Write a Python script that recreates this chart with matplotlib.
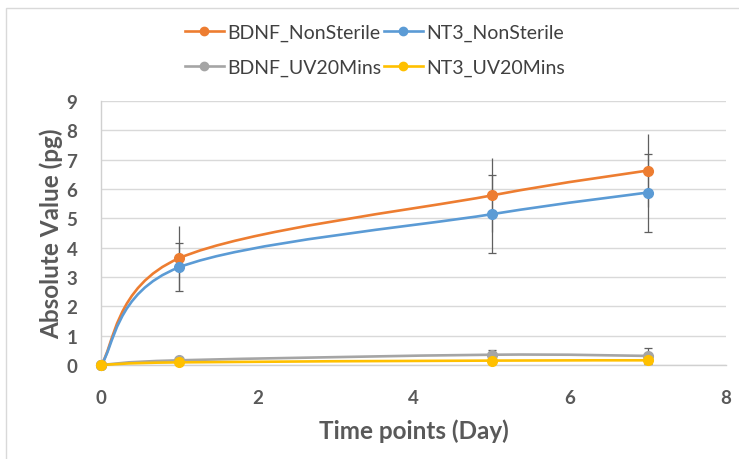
import numpy as np
import matplotlib.pyplot as plt
from matplotlib.path import Path
from matplotlib.patches import PathPatch, Rectangle
from matplotlib.lines import Line2D

plt.rcParams['font.family'] = ['Lato', 'DejaVu Sans']

# Time points (days) and measured values (pg)
days = [0, 1, 5, 7]
bdnf_nonsterile = [0, 3.64, 5.78, 6.63]
bdnf_nonsterile_err = [0, 1.09, 1.26, 1.23]
nt3_nonsterile = [0, 3.33, 5.14, 5.88]
nt3_nonsterile_err = [0, 0.82, 1.33, 1.33]
bdnf_uv20 = [0, 0.16, 0.35, 0.31]
bdnf_uv20_err = [0, 0, 0.17, 0.27]
nt3_uv20 = [0, 0.09, 0.15, 0.16]

series = [
    ("BDNF_NonSterile", bdnf_nonsterile, bdnf_nonsterile_err, "#ED7D31", 0),
    ("NT3_NonSterile", nt3_nonsterile, nt3_nonsterile_err, "#5B9BD5", 3),
    ("BDNF_UV20Mins", bdnf_uv20, bdnf_uv20_err, "#A5A5A5", 3),
    ("NT3_UV20Mins", nt3_uv20, None, "#FFC000", 0),
]


def smooth_path(x, y):
    """Bezier path through the points (Catmull-Rom style smoothed line)."""
    pts = np.column_stack([x, y]).astype(float)
    n = len(pts)
    verts = [pts[0]]
    codes = [Path.MOVETO]
    for i in range(n - 1):
        prev = pts[max(i - 1, 0)]
        nxt = pts[min(i + 2, n - 1)]
        p0, p1 = pts[i], pts[i + 1]
        c1 = p0 + (p1 - prev) / 6
        c2 = p1 - (nxt - p0) / 6
        verts += [c1, c2, p1]
        codes += [Path.CURVE4] * 3
    return Path(verts, codes)


fig = plt.figure(figsize=(7.39, 4.6), dpi=100)
ax = fig.add_axes([101 / 739, 1 - 366 / 460, 625 / 739, 264 / 460])

# chart area frame
fig.patches.append(Rectangle((6 / 739, -0.5), 2, 0.5 + (460 - 9) / 460,
                             transform=fig.transFigure, facecolor='none',
                             edgecolor='#D9D9D9', lw=1.0))

handles = []
for name, vals, err, color, cap in series:
    ax.add_patch(PathPatch(smooth_path(days, vals), facecolor='none',
                           edgecolor=color, lw=1.9, zorder=3, clip_on=False))
    if err is not None:
        ax.errorbar(days[1:], vals[1:], yerr=err[1:], fmt='none',
                    ecolor='#5F5F5F', elinewidth=0.9, capsize=cap,
                    capthick=0.9, zorder=4)
    ax.plot(days, vals, 'o', color=color, ms=7, zorder=5, clip_on=False)
    handles.append(Line2D([], [], color=color, lw=1.9, marker='o', ms=6))

ax.set_xlim(0, 8)
ax.set_ylim(0, 9)
ax.set_xticks(range(0, 9, 2))
ax.set_yticks(range(0, 10))
ax.grid(axis='y', color='#D9D9D9', lw=1.0)
ax.set_axisbelow(True)
for side in ['top', 'right']:
    ax.spines[side].set_visible(False)
for side in ['left', 'bottom']:
    ax.spines[side].set_color('#D0D0D0')
    ax.spines[side].set_linewidth(1.0)
ax.tick_params(length=0, labelsize=13.5, labelcolor='#595959', pad=17)
for lab in ax.get_xticklabels() + ax.get_yticklabels():
    lab.set_fontweight('bold')

ax.set_xlabel('Time points (Day)', fontsize=17.5, fontweight='bold',
              color='#595959', labelpad=9)
ax.set_ylabel('Absolute Value (pg)', fontsize=17.5, fontweight='bold',
              color='#595959', labelpad=2.5)

order = [0, 2, 1, 3]
fig.legend([handles[i] for i in order], [series[i][0] for i in order],
           ncol=2, loc='center', bbox_to_anchor=(375 / 739, 1 - 51 / 460),
           frameon=False, fontsize=14, handlelength=2.0, handletextpad=0.2,
           columnspacing=0.1, labelspacing=0.9, labelcolor='#404040')

fig.savefig('out.png', dpi=100)
